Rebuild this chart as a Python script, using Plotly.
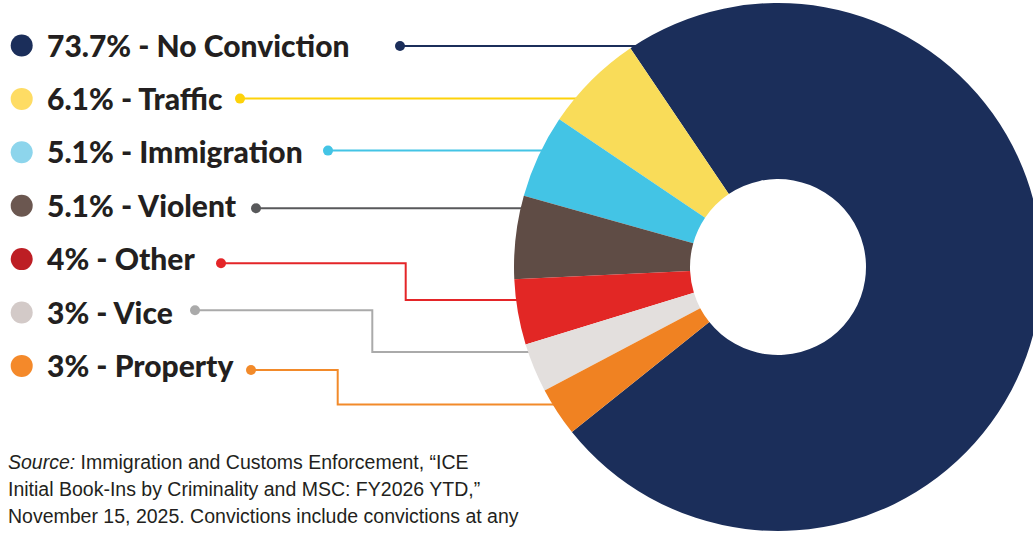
import plotly.graph_objects as go

# Share of initial ICE book-ins by most serious conviction category
categories = ["No Conviction", "Traffic", "Immigration", "Violent", "Other", "Vice", "Property"]
shares = [73.7, 6.1, 5.1, 5.1, 4, 3, 3]

slice_colors = ["#1b2e5a", "#f9dc59", "#43c4e5", "#5f4c45", "#e22725", "#e3dfdd", "#f08222"]
dot_colors = ["#1b2e5a", "#fedc64", "#8dd5ec", "#6b5750", "#bd1e24", "#d3cac8", "#f4892a"]
leader_colors = ["#1b2e5a", "#fdd20a", "#43c4e5", "#58595b", "#e42528", "#aaaaaa", "#f28a2a"]

source_lines = [
    "<i>Source:</i> Immigration and Customs Enforcement, \u201cICE",
    "Initial Book-Ins by Criminality and MSC: FY2026 YTD,\u201d",
    "November 15, 2025. Convictions include convictions at any",
]

# Canvas in pixels (slightly wider than the view so the donut bleeds off the right edge)
W, H = 1050, 533
TEXT = "#231f20"

# Donut geometry in pixels
CX, CY, R = 778, 267, 264
HOLE = 88 / 264

# Label rows
row_y0, row_step = 45.5, 53.4
dot_x, text_x = 21.7, 45

# Leader lines: start point (label side), optional elbow x, and y where it meets the donut
leader_start = [(400, 46), (240, 98.6), (328, 150.6), (256, 208.3), (221, 263.3), (195, 310.3), (251, 370)]
leader_elbow = [None, None, None, None, 405.7, 372.3, 337.7]
leader_end_y = [46, 98.6, 150.6, 208.3, 300, 352, 404.5]

fig = go.Figure()

for i, cat in enumerate(categories):
    sx, sy = leader_start[i]
    ey = leader_end_y[i]
    ex = CX - ((R ** 2 - (ey - CY) ** 2) ** 0.5) + 12  # tucked under the donut
    if leader_elbow[i] is None:
        xs, ys = [sx, ex], [sy, ey]
    else:
        bx = leader_elbow[i]
        xs, ys = [sx, bx, bx, ex], [sy, sy, ey, ey]
    fig.add_trace(go.Scatter(
        x=xs, y=ys, mode="lines",
        line=dict(color=leader_colors[i], width=2),
        hoverinfo="skip", showlegend=False,
    ))
    fig.add_trace(go.Scatter(
        x=[sx], y=[sy], mode="markers",
        marker=dict(color=leader_colors[i], size=10, line=dict(width=0)),
        hoverinfo="skip", showlegend=False,
    ))

# Legend dots and labels
row_ys = [row_y0 + k * row_step for k in range(len(categories))]
fig.add_trace(go.Scatter(
    x=[dot_x] * len(categories), y=row_ys, mode="markers",
    marker=dict(color=dot_colors, size=22, line=dict(width=0)),
    hoverinfo="skip", showlegend=False,
))
for cat, val, y in zip(categories, shares, row_ys):
    fig.add_annotation(
        x=text_x, y=y - 1, xref="x", yref="y",
        text=f"{val:g}% - {cat}",
        showarrow=False, xanchor="left", yanchor="middle",
        font=dict(family="Lato", size=30, weight=900, color=TEXT),
    )

# Source note
for k, line in enumerate(source_lines):
    fig.add_annotation(
        x=6, y=462 + k * 27, xref="x", yref="y",
        text=line, showarrow=False, xanchor="left", yanchor="middle",
        font=dict(family="Liberation Sans", size=19.5, color=TEXT),
    )

fig.add_trace(go.Pie(
    labels=categories, values=shares,
    marker=dict(colors=slice_colors, line=dict(width=0)),
    hole=HOLE, sort=False, direction="counterclockwise", rotation=-34,
    textinfo="none", hoverinfo="label+percent", showlegend=False,
    domain=dict(x=[(CX - R) / W, (CX + R) / W], y=[1 - (CY + R) / H, 1 - (CY - R) / H]),
))

fig.update_layout(
    width=W, height=H, autosize=False,
    margin=dict(l=0, r=0, t=0, b=0, pad=0),
    paper_bgcolor="white", plot_bgcolor="white",
    xaxis=dict(range=[0, W], visible=False, fixedrange=True, domain=[0, 1]),
    yaxis=dict(range=[H, 0], visible=False, fixedrange=True, domain=[0, 1]),
)

fig.write_html(
    "out.html",
    post_script="document.documentElement.style.overflow='hidden';document.body.style.overflow='hidden';document.body.style.margin='0';",
)
